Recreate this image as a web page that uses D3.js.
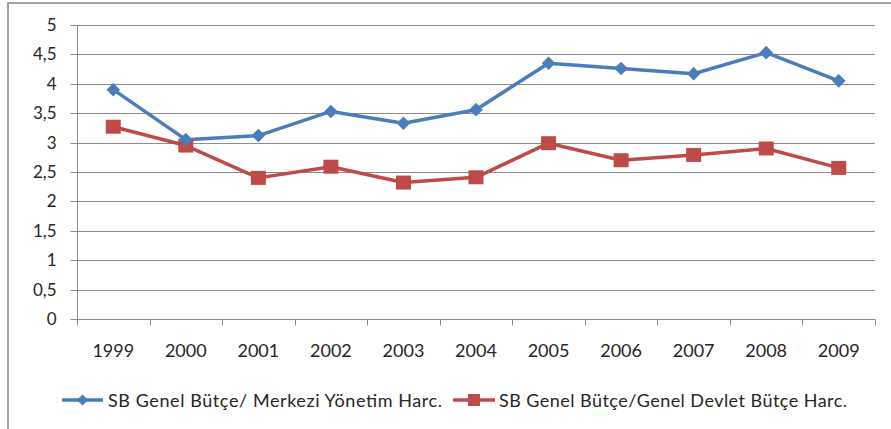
<!DOCTYPE html>
<html>
<head>
<meta charset="utf-8">
<script src="https://cdn.jsdelivr.net/npm/d3@7"></script>
<style>
  html, body { margin: 0; padding: 0; background: #fff; }
  svg { display: block; }
  text { font-family: Lato, "Open Sans", sans-serif; fill: #262626; }
</style>
</head>
<body>
<svg id="chart" width="891" height="429"></svg>
<script>
const years = ["1999","2000","2001","2002","2003","2004","2005","2006","2007","2008","2009"];
const merkeziValues = [3.90, 3.05, 3.12, 3.53, 3.33, 3.56, 4.35, 4.26, 4.17, 4.53, 4.05];
const devletValues  = [3.27, 2.95, 2.40, 2.59, 2.32, 2.41, 2.99, 2.70, 2.79, 2.90, 2.57];
const yTicks = [0, 0.5, 1, 1.5, 2, 2.5, 3, 3.5, 4, 4.5, 5];
const seriesNames = ["SB Genel Bütçe/ Merkezi Yönetim Harc.", "SB Genel Bütçe/Genel Devlet Bütçe Harc."];

const BLUE = "#4A7EBB", RED = "#BE4B48", GRID = "#8c8c8c";

const svg = d3.select("#chart");

// outer frame
svg.append("rect").attr("x", 8).attr("y", 3).attr("width", 900).attr("height", 440)
  .attr("fill", "none").attr("stroke", "#8a8a8a").attr("stroke-width", 1.6);

const x = d3.scaleBand().domain(years).range([77, 875]).paddingInner(0).paddingOuter(0);
const y = d3.scaleLinear().domain([0, 5]).range([319, 25]);
const cx = d => x(d) + x.bandwidth() / 2;

// gridlines
svg.append("g").selectAll("line").data(yTicks.filter(t => t > 0)).join("line")
  .attr("x1", 77).attr("x2", 875)
  .attr("y1", d => Math.round(y(d)) + 0.5).attr("y2", d => Math.round(y(d)) + 0.5)
  .attr("stroke", GRID).attr("stroke-width", 1);

// y axis
const yAxis = d3.axisLeft(y).tickValues(yTicks).tickSize(7).tickPadding(14)
  .tickFormat(d => String(d).replace(".", ","));
const gy = svg.append("g").attr("transform", "translate(77.5,0)").call(yAxis);
gy.select(".domain").attr("stroke", GRID).attr("d", "M0," + y(5) + "V" + y(0));
gy.selectAll(".tick line").attr("stroke", GRID);
gy.selectAll(".tick").attr("transform", d => "translate(0," + (Math.round(y(d)) + 0.5) + ")");
gy.selectAll("text").style("font-size", "17px").attr("fill", "#262626")
  .style("font-family", "Lato, sans-serif");

// x axis line and boundary ticks
const xBase = Math.round(y(0)) + 0.5;
svg.append("line").attr("x1", 77).attr("x2", 875).attr("y1", xBase).attr("y2", xBase)
  .attr("stroke", GRID);
const bounds = years.map(d => x(d)).concat([x.range()[1]]);
svg.append("g").selectAll("line").data(bounds).join("line")
  .attr("x1", d => Math.round(d) + 0.5).attr("x2", d => Math.round(d) + 0.5)
  .attr("y1", xBase).attr("y2", xBase + 6).attr("stroke", GRID);

svg.append("g").selectAll("text").data(years).join("text")
  .attr("x", d => cx(d)).attr("y", 357).attr("text-anchor", "middle")
  .style("font-size", "18px").text(d => d);

// lines
const line = d3.line().x((d, i) => cx(years[i])).y(d => y(d));
svg.append("path").datum(devletValues).attr("d", line).attr("fill", "none")
  .attr("stroke", RED).attr("stroke-width", 3.5).attr("stroke-linejoin", "round");
svg.append("path").datum(merkeziValues).attr("d", line).attr("fill", "none")
  .attr("stroke", BLUE).attr("stroke-width", 3.5).attr("stroke-linejoin", "round");

// markers
const diamond = (px, py, r) => `M${px},${py - r}L${px + r},${py}L${px},${py + r}L${px - r},${py}Z`;
svg.append("g").selectAll("rect").data(devletValues).join("rect")
  .attr("x", (d, i) => cx(years[i]) - 7.5).attr("y", d => y(d) - 7)
  .attr("width", 15).attr("height", 14).attr("fill", RED);
svg.append("g").selectAll("path").data(merkeziValues).join("path")
  .attr("d", (d, i) => diamond(cx(years[i]), y(d), 6.8)).attr("fill", BLUE);

// legend
const legendY = 400;
const lg = svg.append("g");
lg.append("line").attr("x1", 62).attr("x2", 103).attr("y1", legendY).attr("y2", legendY)
  .attr("stroke", BLUE).attr("stroke-width", 3.5);
lg.append("path").attr("d", diamond(82.5, legendY, 5.5)).attr("fill", BLUE);
lg.append("text").attr("x", 108).attr("y", legendY + 7).style("font-size", "18px")
  .attr("textLength", 334).attr("lengthAdjust", "spacing").text(seriesNames[0]);

lg.append("line").attr("x1", 453).attr("x2", 495).attr("y1", legendY).attr("y2", legendY)
  .attr("stroke", RED).attr("stroke-width", 3.5);
lg.append("rect").attr("x", 468).attr("y", legendY - 6).attr("width", 12).attr("height", 12).attr("fill", RED);
lg.append("text").attr("x", 499).attr("y", legendY + 7).style("font-size", "18px")
  .attr("textLength", 348).attr("lengthAdjust", "spacing").text(seriesNames[1]);
</script>
</body>
</html>
